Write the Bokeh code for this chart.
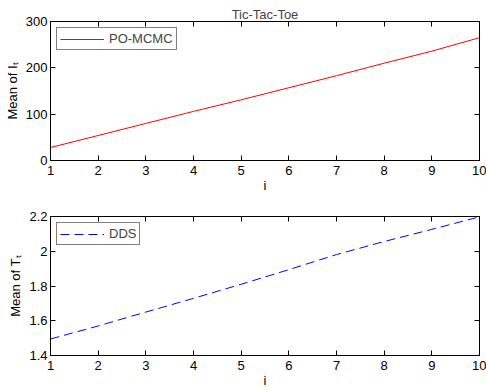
from bokeh.plotting import figure
from bokeh.layouts import column
from bokeh.models import LinearAxis, FixedTicker, Legend, LegendItem, Range1d
from bokeh.embed import file_html
from bokeh.resources import INLINE

# ---- data ----
iters = [1, 2, 3, 4, 5, 6, 7, 8, 9, 10]
mean_it_pomcmc = [28, 54, 80, 106, 131, 157, 183, 210, 236, 265]
mean_tt_dds = [1.495, 1.570, 1.650, 1.729, 1.810, 1.894, 1.981, 2.056, 2.126, 2.198]
x_ticks = [1, 2, 3, 4, 5, 6, 7, 8, 9, 10]
top_y_ticks = [0, 100, 200, 300]
bot_y_ticks = [1.4, 1.6, 1.8, 2.0, 2.2]
bot_y_labels = ["1.4", "1.6", "1.8", "2", "2.2"]
x_label = "i"

FONT = "Liberation Sans"
FS = "13px"


def style_axis(ax, ticks, show_labels=True, overrides=None):
    ax.ticker = FixedTicker(ticks=ticks)
    ax.major_tick_in = 5
    ax.major_tick_out = 0
    ax.minor_tick_line_color = None
    ax.axis_line_color = "black"
    ax.major_tick_line_color = "black"
    ax.major_label_text_font = FONT
    ax.major_label_text_font_size = FS
    ax.major_label_text_color = "black"
    ax.axis_label_text_font = FONT
    ax.axis_label_text_font_size = FS
    ax.axis_label_text_font_style = "normal"
    ax.axis_label_text_color = "black"
    if overrides:
        ax.major_label_overrides = overrides
    if not show_labels:
        ax.major_label_text_font_size = "0px"
        ax.major_label_text_color = None
        ax.major_label_standoff = 0


def make_fig(yvals, yr, yticks, ylabel, color, dash, leg, title, overrides=None):
    kw = dict(width=486, height=195, output_backend="svg", toolbar_location=None,
              x_range=Range1d(1, 10), y_range=Range1d(*yr),
              min_border_left=50, min_border_right=7, min_border_top=21,
              min_border_bottom=34)
    if title:
        kw["title"] = title
    p = figure(**kw)
    if title:
        p.title.align = "center"
        p.title.text_font = FONT
        p.title.text_font_size = "13px"
        p.title.text_font_style = "normal"
        p.title.standoff = 0
    p.grid.visible = False
    p.outline_line_color = "black"
    style_axis(p.xaxis[0], x_ticks)
    style_axis(p.yaxis[0], yticks, overrides=overrides)
    p.xaxis[0].axis_label = x_label
    p.xaxis[0].major_label_standoff = 5
    p.xaxis[0].axis_label_standoff = 0
    p.yaxis[0].axis_label = ylabel
    p.yaxis[0].axis_label_standoff = 3
    p.yaxis[0].major_label_standoff = 3
    top_ax = LinearAxis()
    style_axis(top_ax, x_ticks, show_labels=False)
    right_ax = LinearAxis()
    style_axis(right_ax, yticks, show_labels=False)
    p.add_layout(top_ax, "above")
    p.add_layout(right_ax, "right")

    r = p.line(iters, yvals, line_color=color, line_width=1, line_dash=dash)
    legend = Legend(items=[LegendItem(label=leg, renderers=[r])], location="top_left")
    legend.label_text_font = FONT
    legend.label_text_font_size = FS
    legend.border_line_color = "black"
    legend.border_line_width = 1
    legend.background_fill_alpha = 1
    legend.margin = 6
    legend.padding = 3
    legend.glyph_width = 44
    legend.glyph_height = 14
    legend.label_standoff = 5
    legend.label_height = 14
    legend.label_width = 20
    p.add_layout(legend, "center")
    return p


p1 = make_fig(mean_it_pomcmc, (0, 300), top_y_ticks, "Mean of Iₜ", "red", "solid",
              "PO-MCMC", "Tic-Tac-Toe")
p2 = make_fig(mean_tt_dds, (1.4, 2.2), bot_y_ticks, "Mean of Tₜ", "blue", "9 5",
              "DDS", None,
              overrides={t: s for t, s in zip(bot_y_ticks, bot_y_labels)})

layout = column(p1, p2, spacing=0)
open("out.html", "w").write(file_html(layout, INLINE))
